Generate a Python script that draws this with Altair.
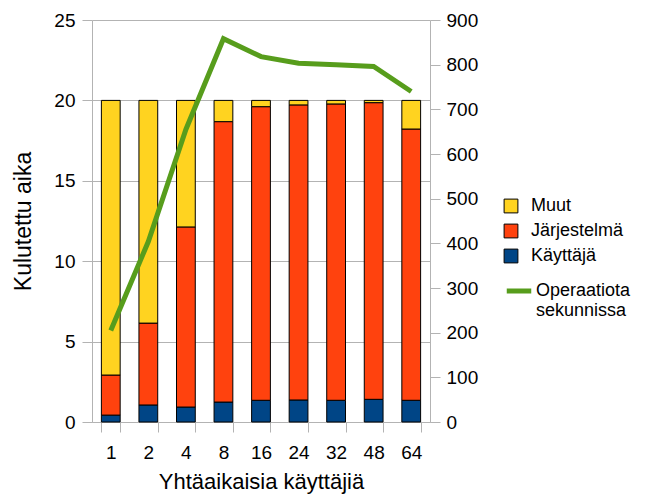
import altair as alt
import pandas as pd

users = ["1", "2", "4", "8", "16", "24", "32", "48", "64"]
kayttaja = [0.43, 1.06, 0.93, 1.24, 1.35, 1.37, 1.35, 1.41, 1.35]
jarjestelma = [2.49, 5.09, 11.20, 17.44, 18.26, 18.35, 18.43, 18.45, 16.87]
muut = [17.08, 13.85, 7.87, 1.32, 0.39, 0.28, 0.22, 0.14, 1.78]
ops = [205, 404, 655, 858, 818, 803, 800, 796, 740]

series_names = ["Muut", "Järjestelmä", "Käyttäjä"]
series_colors = ["#FFD320", "#FF420E", "#004586"]
line_name = "Operaatiota sekunnissa"
line_color = "#579D1C"

rows = []
for i, u in enumerate(users):
    rows.append({"u": u, "s": "Käyttäjä", "v": kayttaja[i], "o": 0})
    rows.append({"u": u, "s": "Järjestelmä", "v": jarjestelma[i], "o": 1})
    rows.append({"u": u, "s": "Muut", "v": muut[i], "o": 2})
bars_df = pd.DataFrame(rows)
line_df = pd.DataFrame({"u": users, "ops": ops, "s": [line_name] * len(users)})

FONT = "Liberation Sans"
GRID = "#b3b3b3"

xenc = alt.X(
    "u:N",
    sort=users,
    scale=alt.Scale(paddingInner=0.5, paddingOuter=0.25),
    axis=alt.Axis(
        title="Yhtäaikaisia käyttäjiä",
        labelAngle=0,
        tickBand="extent",
        labelFontSize=19,
        titleFontSize=22,
        titleFontWeight="normal",
        labelPadding=11,
        titlePadding=9,
        tickSize=10,
        domainColor=GRID,
        tickColor=GRID,
        grid=False,
    ),
)

bars = alt.Chart(bars_df).mark_bar(stroke="black", strokeWidth=1).encode(
    x=xenc,
    y=alt.Y(
        "v:Q",
        stack="zero",
        scale=alt.Scale(domain=[0, 25], nice=False),
        axis=alt.Axis(
            title="Kulutettu aika",
            values=[0, 5, 10, 15, 20, 25],
            labelFontSize=19,
            titleFontSize=23,
            titleFontWeight="normal",
            labelPadding=7,
            titlePadding=18,
            tickSize=10,
            domainColor=GRID,
            tickColor=GRID,
            gridColor=GRID,
            grid=True,
        ),
    ),
    fill=alt.Fill(
        "s:N",
        scale=alt.Scale(domain=series_names, range=series_colors),
        legend=alt.Legend(
            title=None,
            orient="none",
            legendX=410,
            legendY=177,
            symbolType="square",
            symbolSize=190,
            symbolStrokeColor="black",
            symbolStrokeWidth=1,
            labelFontSize=18,
            labelOffset=11,
            rowPadding=7,
        ),
    ),
    order=alt.Order("o:Q", sort="ascending"),
)

line = alt.Chart(line_df).mark_line(strokeWidth=5).encode(
    x=alt.X("u:N", sort=users),
    y=alt.Y(
        "ops:Q",
        scale=alt.Scale(domain=[0, 900], nice=False),
        axis=alt.Axis(
            title=None,
            orient="right",
            values=list(range(0, 1000, 100)),
            labelFontSize=19,
            labelPadding=6,
            tickSize=10,
            domainColor=GRID,
            tickColor=GRID,
            grid=False,
        ),
    ),
    stroke=alt.Stroke(
        "s:N",
        scale=alt.Scale(domain=[line_name], range=[line_color]),
        legend=alt.Legend(
            title=None,
            orient="none",
            legendX=412,
            legendY=256,
            symbolType="stroke",
            symbolSize=600,
            symbolStrokeWidth=5,
            labelFontSize=18,
            labelOffset=2,
            labelExpr="datum.label == 'Operaatiota sekunnissa' ? ['Operaatiota', 'sekunnissa'] : datum.label",
        ),
    ),
)

chart = (
    alt.layer(bars, line)
    .resolve_scale(y="independent")
    .properties(
        width=338,
        height=402,
        autosize=alt.AutoSizeParams(type="none"),
        padding={"left": 84, "top": 12, "right": 209, "bottom": 72},
    )
    .configure(font=FONT)
    .configure_view(stroke=None)
    .configure_axis(labelColor="black", titleColor="black")
    .configure_legend(labelColor="black", labelFont=FONT)
)

chart.save("out.html", embed_options={"renderer": "svg", "actions": False})
